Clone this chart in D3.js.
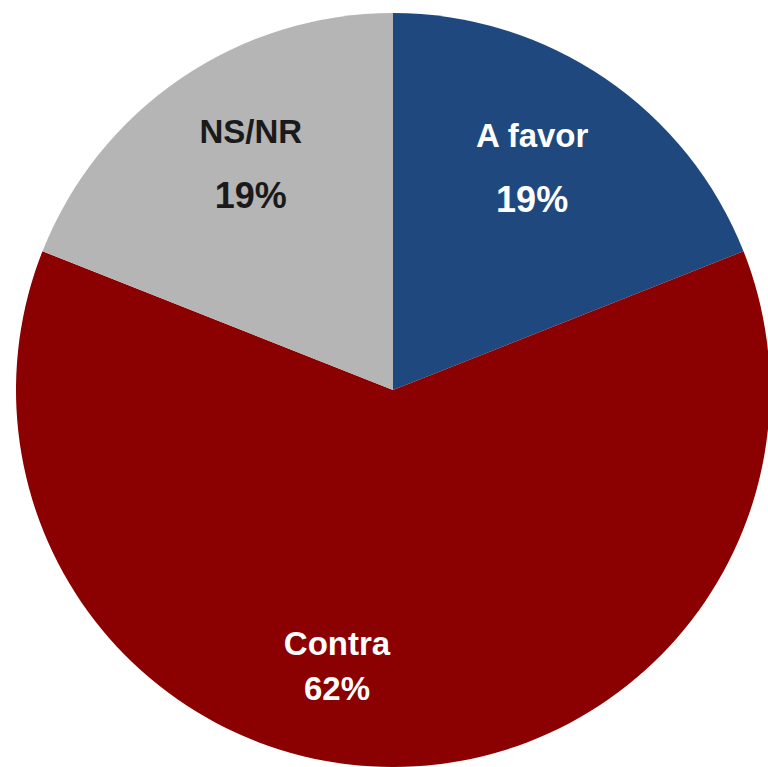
<!DOCTYPE html>
<html>
<head>
<meta charset="utf-8">
<script src="https://cdn.jsdelivr.net/npm/d3@7"></script>
<style>
  html, body { margin: 0; padding: 0; background: #fff; }
  svg { display: block; }
</style>
</head>
<body>
<div id="chart-area"></div>
<script>
// data
var categories = ["A favor", "Contra", "NS/NR"];
var values = [19, 62, 19];
var colors = ["#1f497e", "#8b0000", "#b5b5b5"];
var textColors = ["#ffffff", "#ffffff", "#1a1a1a"];

// label placement (angle in degrees clockwise from 12 o'clock, radius)
var labelAngle = [31.8, 191.5, -31.9];
var labelRadius = [264, 281, 269];

var width = 768, height = 767;
var cx = 393, cy = 390, radius = 377;

var svg = d3.select("#chart-area")
    .append("svg")
    .attr("width", width)
    .attr("height", height);

var g = svg.append("g")
    .attr("transform", "translate(" + cx + "," + cy + ")");

var data = categories.map(function(c, i) {
    return { name: c, value: values[i], color: colors[i], text: textColors[i], ang: labelAngle[i], r: labelRadius[i] };
});

var pie = d3.pie()
    .sort(null)
    .value(function(d) { return d.value; });

var arc = d3.arc()
    .innerRadius(0)
    .outerRadius(radius);

var slices = g.selectAll("path")
    .data(pie(data))
    .enter()
    .append("path")
    .attr("d", arc)
    .attr("fill", function(d) { return d.data.color; });

// labels
var labels = g.selectAll("g.label")
    .data(data)
    .enter()
    .append("g")
    .attr("class", "label")
    .attr("transform", function(d) {
        var a = d.ang * Math.PI / 180;
        return "translate(" + (Math.sin(a) * d.r) + "," + (-Math.cos(a) * d.r) + ")";
    })
    .attr("fill", function(d) { return d.text; })
    .attr("font-family", "'Liberation Sans', Arial, sans-serif")
    .attr("font-weight", "bold")
    .attr("text-anchor", "middle");

labels.append("text")
    .attr("y", function(d) { return d.name === "Contra" ? -10 : -19; })
    .attr("font-size", "33px")
    .text(function(d) { return d.name; });

labels.append("text")
    .attr("y", function(d) { return d.name === "Contra" ? 35 : 46; })
    .attr("font-size", function(d) { return d.name === "Contra" ? "33px" : "36px"; })
    .text(function(d) { return d.value + "%"; });
</script>
</body>
</html>
